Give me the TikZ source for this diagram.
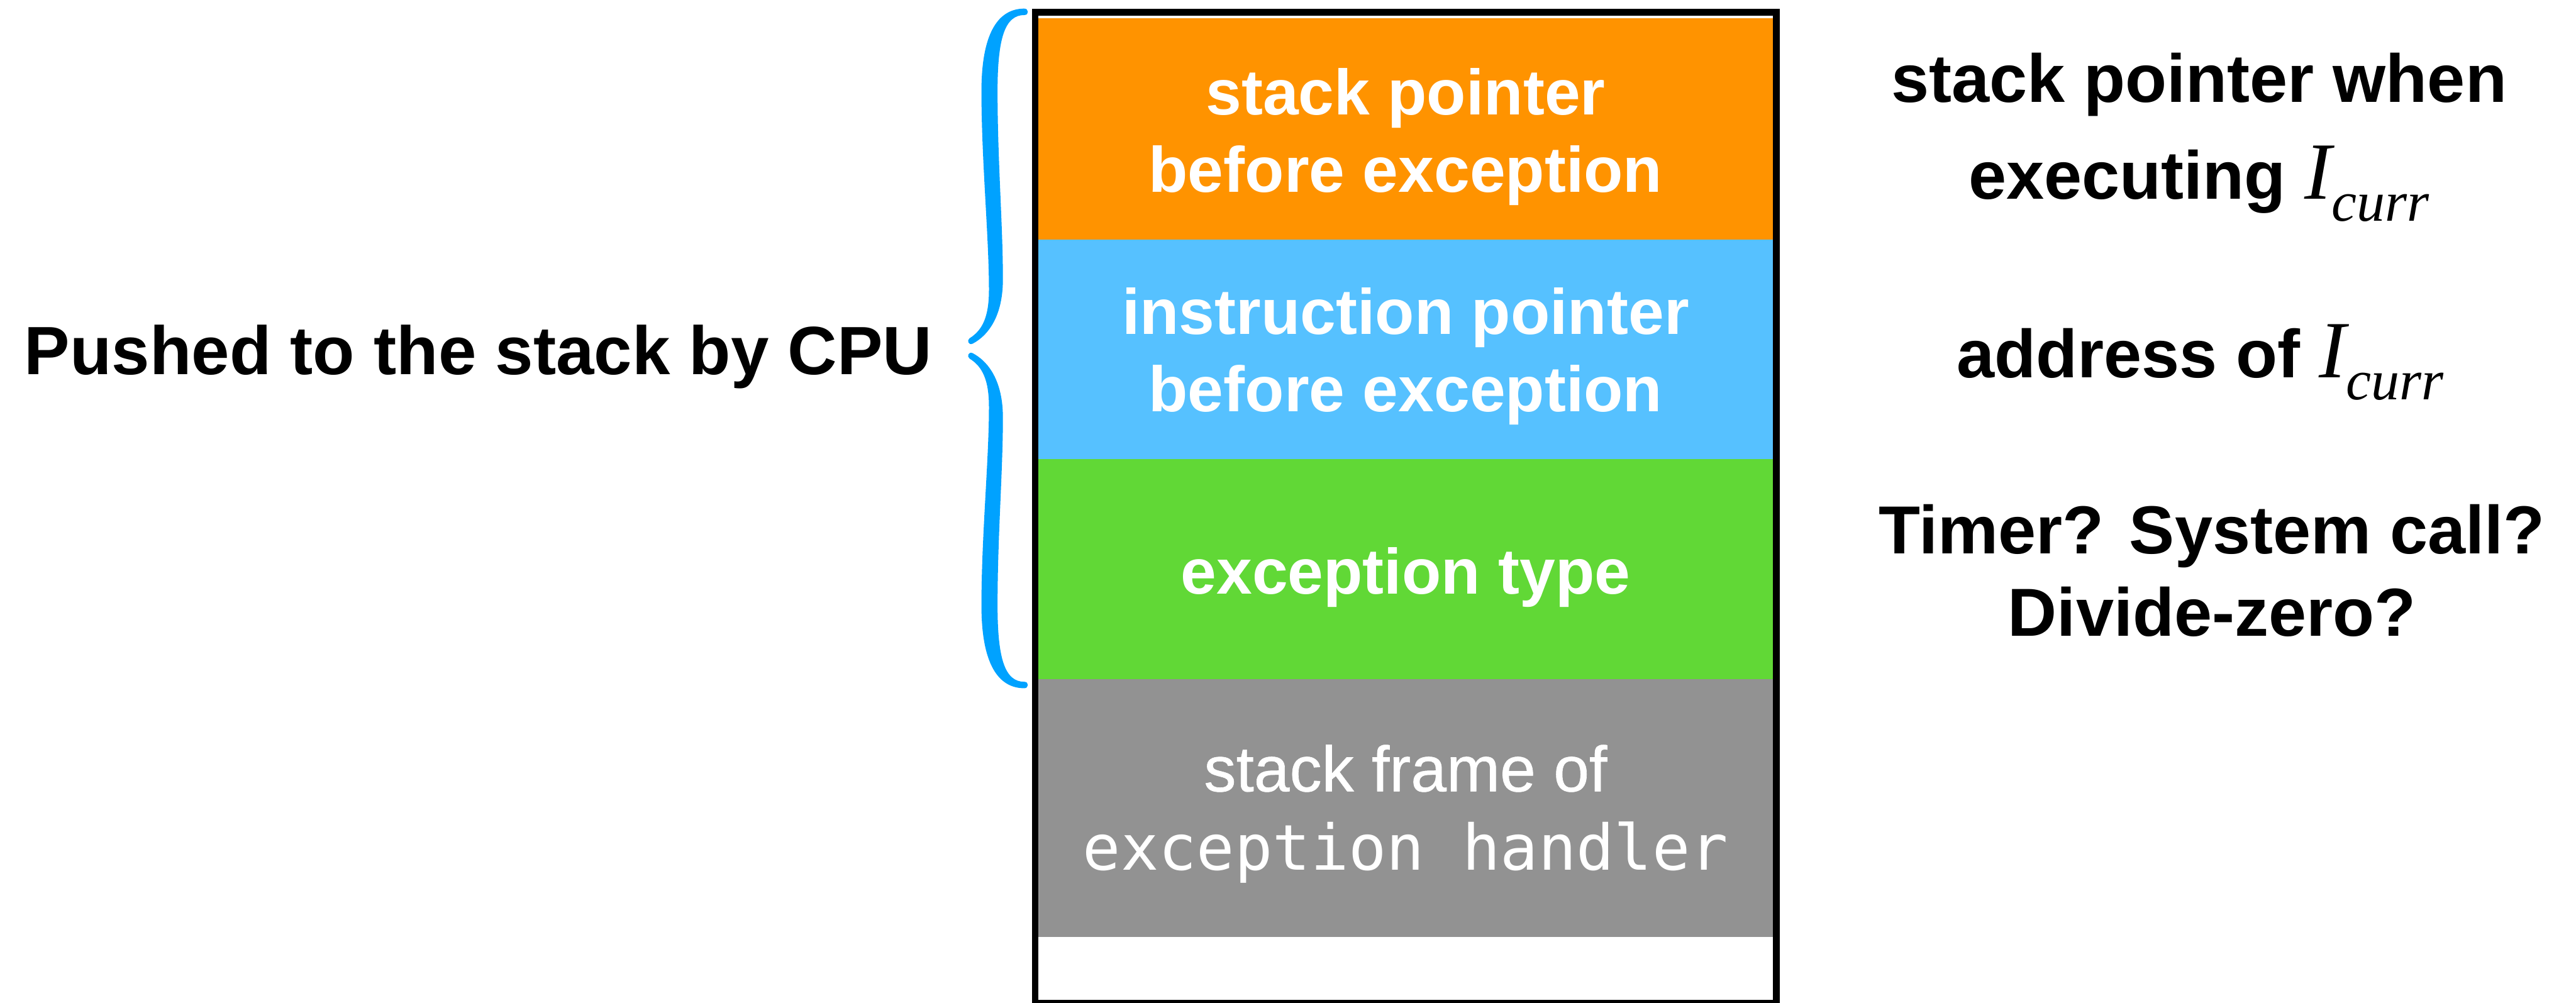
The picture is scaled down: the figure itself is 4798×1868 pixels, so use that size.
\documentclass[tikz,border=0pt]{standalone}
\usepackage{fontspec}
\setmainfont{Liberation Sans}
\newfontfamily\tnr{Liberation Serif}
\newfontfamily\monofam{DejaVu Sans Mono}
\newfontfamily\medfam[FakeBold=0.6]{Liberation Sans}
\definecolor{cOrange}{RGB}{255,147,0}
\definecolor{cBlue}{RGB}{86,193,255}
\definecolor{cGreen}{RGB}{97,216,54}
\definecolor{cGray}{RGB}{146,146,146}
\definecolor{cBrace}{RGB}{0,162,255}
\newcommand{\Icurr}{{\tnr\mdseries\itshape\fontsize{43}{43}\selectfont I}\raisebox{-11.7pt}{\tnr\mdseries\itshape\fontsize{30}{30}\selectfont curr}}
\begin{document}
\begin{tikzpicture}[x=0.01cm,y=-0.01cm,
  blacklbl/.style={inner sep=0pt, anchor=base, align=center, text=black},
  boxtxt/.style={inner sep=0pt, anchor=base, align=center, text=white,
    font=\fontsize{34}{41}\selectfont\bfseries}]
\useasboundingbox (0,0) rectangle (4798,1868);
% bands
\fill[cOrange] (1934,34) rectangle (3302,446);
\fill[cBlue]   (1934,446) rectangle (3302,855);
\fill[cGreen]  (1934,855) rectangle (3302,1265);
\fill[cGray]   (1934,1265) rectangle (3302,1745);
% frame
\draw[line width=3.56pt] (1928.2,22.5) rectangle (3308.5,1868.5);
% brace (upper arm, then mirrored lower arm)
\def\bracearm{%
  (1908,16) .. controls (1916,16) and (1917,28) .. (1908,28)
  .. controls (1872,28) and (1858,70) .. (1858,170)
  .. controls (1858,300) and (1868,420) .. (1868,520)
  .. controls (1868,590) and (1840,625) .. (1812,640)
  .. controls (1804,644) and (1800,634) .. (1806,630)
  .. controls (1830,615) and (1842,590) .. (1842,540)
  .. controls (1842,440) and (1828,300) .. (1828,170)
  .. controls (1828,60) and (1860,16) .. (1908,16) -- cycle}
\fill[cBrace] \bracearm;
\begin{scope}[shift={(0,1298)}, yscale=-1]
\fill[cBrace] \bracearm;
\end{scope}
% box texts (base anchor = baseline of last line)
\node[boxtxt] (sp) at (2618,358) {stack pointer\\before exception};
\node[boxtxt] (ip) at (2618,767) {instruction pointer\\before exception};
\node[boxtxt] (et) at (2618,1106) {exception type};
\node[boxtxt, font=\fontsize{34}{41.5}\selectfont] (sf) at (2618,1620)
  {{\medfam\fontsize{34}{41.5}\selectfont stack frame of}\\{\monofam\fontsize{33.4}{41.5}\selectfont exception handler}};
% left label
\node[blacklbl, font=\fontsize{36.2}{43}\selectfont\bfseries] (push) at (891,697) {Pushed to the stack by CPU};
% right labels
\node[blacklbl, font=\fontsize{36}{51.5}\selectfont\bfseries] (spw) at (4096,371) {stack pointer when\\executing \Icurr};
\node[blacklbl, font=\fontsize{36}{51.5}\selectfont\bfseries] (addr) at (4098,703) {address of \Icurr};
\node[blacklbl, font=\fontsize{36}{43.8}\selectfont\bfseries] (typ) at (4120,1185) {Timer? System call?\\Divide-zero?};
\end{tikzpicture}
\end{document}
